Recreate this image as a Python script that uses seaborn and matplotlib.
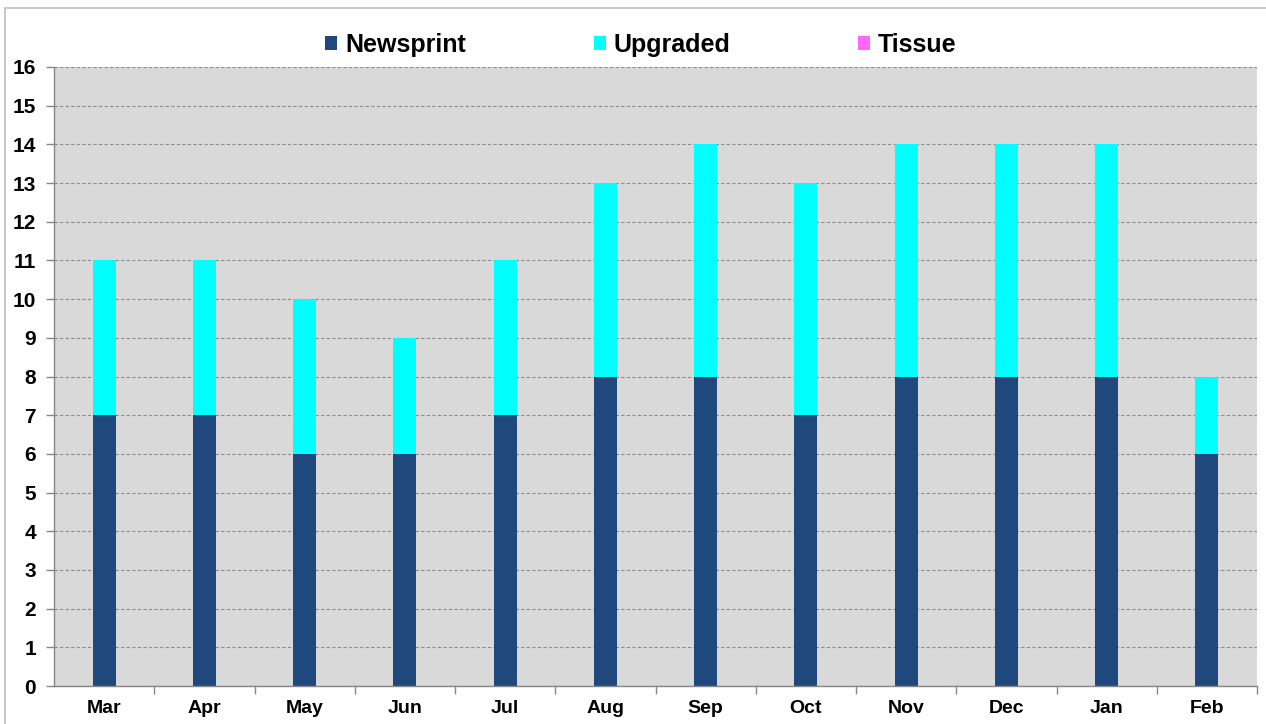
import matplotlib
matplotlib.use("Agg")
import matplotlib.pyplot as plt
import seaborn as sns
import numpy as np
import pandas as pd
from matplotlib.lines import Line2D
from matplotlib.patches import Patch
from matplotlib.ticker import FixedLocator, MultipleLocator

months = ["Mar", "Apr", "May", "Jun", "Jul", "Aug", "Sep", "Oct", "Nov", "Dec", "Jan", "Feb"]
newsprint = [7, 7, 6, 6, 7, 8, 8, 7, 8, 8, 8, 6]
upgraded = [4, 4, 4, 3, 4, 5, 6, 6, 6, 6, 6, 2]
tissue = [0, 0, 0, 0, 0, 0, 0, 0, 0, 0, 0, 0]
series_names = ["Newsprint", "Upgraded", "Tissue"]
colors = ["#1F497D", "#00FFFF", "#FF66FF"]

sns.set_style("white")
plt.rcParams['font.family'] = ['Liberation Sans', 'DejaVu Sans']
plt.rcParams['font.weight'] = 'bold'
plt.rcParams['text.color'] = 'black'
plt.rcParams['xtick.color'] = 'black'
plt.rcParams['ytick.color'] = 'black'

fig = plt.figure(figsize=(12.66, 7.24), dpi=100)
ax = fig.add_axes([54/1266, 1-686/724, (1257-54)/1266, (686-67)/724])
ax.set_facecolor("#D9D9D9")

df = pd.DataFrame({"month": months, "Newsprint": newsprint,
                   "Upgraded": upgraded, "Tissue": tissue})
bottom = np.zeros(len(months))
for name, col in zip(series_names, colors):
    sns.barplot(data=df, x="month", y=name, color=col, width=0.23,
                bottom=bottom, ax=ax, saturation=1, linewidth=0, zorder=3)
    bottom = bottom + df[name].to_numpy()

ax.set_xlim(-0.5, 11.5)
ax.set_ylim(0, 16)
ax.yaxis.set_major_locator(MultipleLocator(1))
ax.grid(axis="y", color="#8C8C8C", linestyle=(0, (3, 2)), linewidth=0.8, zorder=1)
ax.set_axisbelow(True)
ax.set_xlabel("")
ax.set_ylabel("")

for s in ["top", "right"]:
    ax.spines[s].set_visible(False)
for s in ["left", "bottom"]:
    ax.spines[s].set_color("#868686")
    ax.spines[s].set_linewidth(1.0)
    ax.spines[s].set_zorder(4)

ax.tick_params(axis="y", which="major", left=True, length=6, width=1, color="#868686",
               labelcolor="black", labelsize=15, pad=7)
ax.tick_params(axis="x", which="major", length=0, labelsize=14, pad=10, labelcolor="black")
ax.xaxis.set_minor_locator(FixedLocator(np.arange(0.5, 12, 1)))
ax.tick_params(axis="x", which="minor", bottom=True, length=6, width=1, color="#868686")
for lbl in ax.get_xticklabels() + ax.get_yticklabels():
    lbl.set_fontweight("bold")

handles = [Patch(facecolor=c, edgecolor="none") for c in colors]
leg = ax.legend(handles, series_names, ncol=3, loc="center", frameon=False,
                bbox_to_anchor=(0.488, 1.035), prop={"size": 18, "weight": "bold"},
                handlelength=0.48, handleheight=0.48, handletextpad=0.32,
                columnspacing=5.1, borderaxespad=0)
for t in leg.get_texts():
    t.set_color("black")

# figure frame (chart area border)
fig.add_artist(Line2D([5/1266, 5/1266], [0, 1-8/724], transform=fig.transFigure,
                      color="#BFBFBF", linewidth=1.2))
fig.add_artist(Line2D([5/1266, 1], [1-8/724, 1-8/724], transform=fig.transFigure,
                      color="#BFBFBF", linewidth=1.2))

fig.savefig("out.png", dpi=100)
